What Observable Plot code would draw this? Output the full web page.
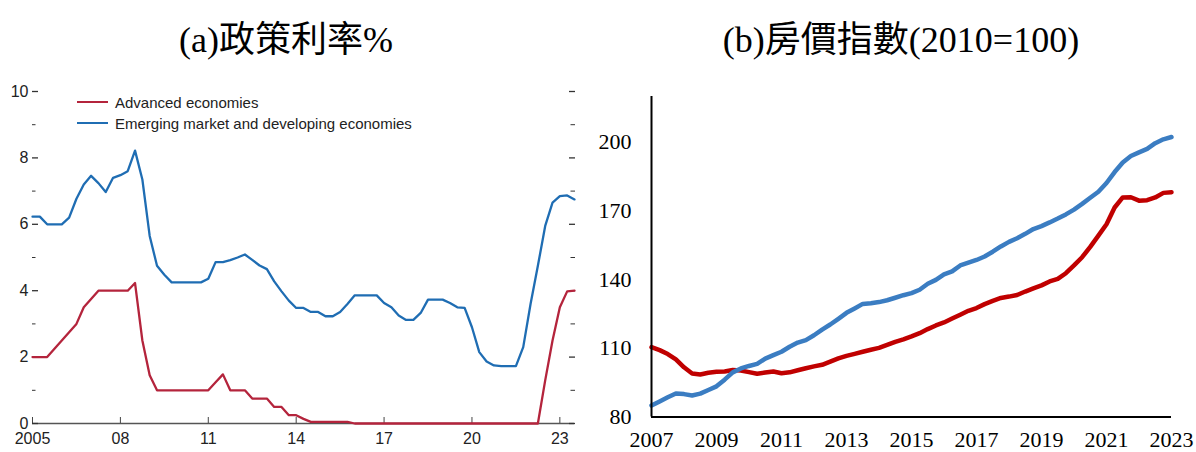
<!DOCTYPE html>
<html>
<head>
<meta charset="utf-8">
<script src="https://cdn.jsdelivr.net/npm/d3@7"></script>
<script src="https://cdn.jsdelivr.net/npm/@observablehq/plot@0.6"></script>
<style>
  body { margin: 0; background: #fff; }
  #page { position: relative; width: 1196px; height: 452px; overflow: hidden; background: #fff; }
  .title {
    position: absolute; top: 22px; line-height: 36px; white-space: nowrap;
    font-family: "Liberation Serif", "Noto Sans CJK TC", serif; font-size: 36px; color: #000;
    transform: translateX(-50%);
  }
  .panel { position: absolute; top: 70px; }
  .legend { position: absolute; left: 77px; font-family: "Liberation Sans", Arial, sans-serif; font-size: 15px; color: #222; }
  .legend-row { position: absolute; left: 0; height: 20px; display: flex; align-items: center; white-space: nowrap; }
  .legend-row i { display: inline-block; width: 31px; height: 2px; margin-right: 7px; }
</style>
</head>
<body>
<div id="page">
  <div class="title" style="left:286px">(a)政策利率%</div>
  <div class="title" style="left:901px">(b)房價指數(2010=100)</div>
  <div id="left" class="panel" style="left:0"></div>
  <div id="right" class="panel" style="left:590px"></div>
  <div id="legend" class="legend" style="top:0"></div>
</div>
<script>
// ---- (a) Policy rates, quarterly from 2005Q1 ----
const rateStart = 2005;
const rateSeries = ["Advanced economies", "Emerging market and developing economies"];
const rateColors = ["#b4243c", "#1f6db3"];
const aeRate = [
  2.0, 2.0, 2.0, 2.25, 2.5, 2.75, 3.0, 3.5, 3.75, 4.0,
  4.0, 4.0, 4.0, 4.0, 4.23, 2.5, 1.45, 1.0, 1.0, 1.0,
  1.0, 1.0, 1.0, 1.0, 1.0, 1.24, 1.48, 1.0, 1.0, 1.0,
  0.75, 0.75, 0.75, 0.5, 0.5, 0.25, 0.25, 0.14, 0.05, 0.05,
  0.05, 0.05, 0.05, 0.05, 0, 0, 0, 0, 0, 0,
  0, 0, 0, 0, 0, 0, 0, 0, 0, 0,
  0, 0, 0, 0, 0, 0, 0, 0, 0, 0,
  1.3, 2.5, 3.5, 3.98, 4.0
];
const emdeRate = [
  6.23, 6.23, 6.0, 6.0, 6.0, 6.2, 6.77, 7.2, 7.46, 7.24,
  6.97, 7.4, 7.48, 7.6, 8.22, 7.35, 5.65, 4.75, 4.48, 4.25,
  4.25, 4.25, 4.25, 4.25, 4.36, 4.86, 4.86, 4.92, 5.0, 5.09,
  4.93, 4.76, 4.65, 4.28, 3.98, 3.7, 3.48, 3.48, 3.36, 3.36,
  3.23, 3.23, 3.36, 3.6, 3.86, 3.86, 3.86, 3.86, 3.63, 3.5,
  3.25, 3.12, 3.12, 3.33, 3.73, 3.73, 3.73, 3.63, 3.5, 3.48,
  2.9, 2.15, 1.87, 1.75, 1.73, 1.73, 1.73, 2.3, 3.6, 4.75,
  5.95, 6.65, 6.85, 6.87, 6.75
];
const rateTickYears = [2005, 2008, 2011, 2014, 2017, 2020, 2023];
const rateTickLabels = ["2005", "08", "11", "14", "17", "20", "23"];
const rateMajorTicks = [0, 2, 4, 6, 8, 10];
const rateMinorTicks = [1, 3, 5, 7, 9];

// ---- (b) House price index (2010=100), quarterly from 2007Q1 ----
const hpStart = 2007;
const aeHousePrice = [
  110.5, 109.2, 107.5, 105.2, 101.7, 99.0, 98.6, 99.3, 99.8, 99.9,
  100.5, 100.3, 99.6, 98.9, 99.4, 99.9, 99.1, 99.5, 100.4, 101.3,
  102.1, 102.8, 104.2, 105.6, 106.7, 107.6, 108.5, 109.4, 110.2, 111.5,
  112.8, 113.9, 115.2, 116.6, 118.4, 120.0, 121.3, 123.0, 124.7, 126.4,
  127.6, 129.3, 130.7, 132.0, 132.6, 133.3, 134.8, 136.2, 137.5, 139.2,
  140.3, 142.8, 146.2, 149.8, 154.3, 159.2, 164.2, 171.5, 175.9, 176.0,
  174.5, 174.7, 175.9, 177.9, 178.2
];
const emdeHousePrice = [
  85.0, 86.8, 88.6, 90.3, 90.0, 89.4, 90.2, 91.8, 93.4, 96.3,
  99.5, 101.2, 102.3, 103.2, 105.5, 107.0, 108.5, 110.7, 112.5, 113.6,
  115.7, 118.2, 120.4, 122.9, 125.5, 127.4, 129.4, 129.7, 130.2, 131.0,
  132.1, 133.2, 134.1, 135.6, 138.2, 139.9, 142.3, 143.6, 146.2, 147.4,
  148.6, 150.1, 152.2, 154.5, 156.5, 158.1, 160.0, 162.1, 163.4, 165.0,
  166.7, 168.5, 170.6, 173.1, 175.8, 178.4, 182.2, 187.0, 191.2, 194.0,
  195.6, 197.1, 199.6, 201.3, 202.3
];
const hpColors = ["#c00000", "#3b7dc2"];
const hpTickYears = [2007, 2009, 2011, 2013, 2015, 2017, 2019, 2021, 2023];
const hpYTicks = [80, 110, 140, 170, 200];

// quarterly rows: index i -> start + i/4
const toRows = (values, start, series) => values.map((v, i) => ({date: start + i / 4, value: v, series}));

const rateRows = [
  ...toRows(aeRate, rateStart, rateSeries[0]),
  ...toRows(emdeRate, rateStart, rateSeries[1])
];
const rateLabel = new Map(rateTickYears.map((y, i) => [y, rateTickLabels[i]]));

const left = Plot.plot({
  width: 590, height: 382,
  marginTop: 21, marginBottom: 29, marginLeft: 32, marginRight: 16,
  style: {fontFamily: "'Liberation Sans', Arial, sans-serif", fontSize: "16px", color: "#222", background: "transparent", overflow: "visible"},
  x: {domain: [2005, 2023.5], label: null},
  y: {domain: [0, 10], label: null},
  color: {domain: rateSeries, range: rateColors},
  marks: [
    Plot.ruleY([0], {stroke: "#555", strokeWidth: 1.5}),
    Plot.axisX({ticks: rateTickYears, tickFormat: d => rateLabel.get(d), tickSize: -6, tickPadding: 15, stroke: "#444", label: null}),
    Plot.axisY({ticks: rateMajorTicks, tickFormat: d => String(d), tickSize: -6, tickPadding: 10, stroke: "#333", strokeWidth: 1.3, label: null}),
    Plot.axisY({ticks: rateMinorTicks, tickSize: -3.5, text: null, stroke: "#333", label: null}),
    Plot.axisY({anchor: "right", ticks: rateMajorTicks, tickSize: -6, text: null, stroke: "#333", strokeWidth: 1.3, label: null}),
    Plot.axisY({anchor: "right", ticks: rateMinorTicks, tickSize: -4.5, text: null, stroke: "#333", label: null}),
    Plot.line(rateRows, {x: "date", y: "value", z: "series", stroke: "series", strokeWidth: 2.3, strokeLinejoin: "round"})
  ]
});
document.getElementById("left").appendChild(left);

// legend for panel (a)
const legend = document.getElementById("legend");
rateSeries.forEach((name, i) => {
  const row = document.createElement("div");
  row.className = "legend-row";
  row.style.top = (92 + i * 21) + "px";
  const sw = document.createElement("i");
  sw.style.background = rateColors[i];
  row.appendChild(sw);
  row.appendChild(document.createTextNode(name));
  legend.appendChild(row);
});

const hpRows = [
  ...toRows(aeHousePrice, hpStart, "ae"),
  ...toRows(emdeHousePrice, hpStart, "emde")
];

const right = Plot.plot({
  width: 606, height: 382,
  marginTop: 26, marginBottom: 35.5, marginLeft: 61, marginRight: 25,
  style: {fontFamily: "'Liberation Serif', 'Times New Roman', serif", fontSize: "22px", color: "#000", background: "transparent", overflow: "visible"},
  x: {domain: [2007, 2023], label: null},
  y: {domain: [80, 220], label: null},
  color: {domain: ["ae", "emde"], range: hpColors},
  marks: [
    Plot.axisY({ticks: hpYTicks, tickSize: 0, tickPadding: 20, label: null}),
    Plot.axisX({ticks: hpTickYears, tickFormat: d => String(d), tickSize: 0, tickPadding: 14, label: null}),
    Plot.line(hpRows, {x: "date", y: "value", z: "series", stroke: "series", strokeWidth: 4.5, strokeLinejoin: "round", strokeLinecap: "round"}),
    Plot.ruleX([2007], {stroke: "#000", strokeWidth: 2}),
    Plot.ruleY([80], {stroke: "#000", strokeWidth: 2})
  ]
});
document.getElementById("right").appendChild(right);
</script>
</body>
</html>
